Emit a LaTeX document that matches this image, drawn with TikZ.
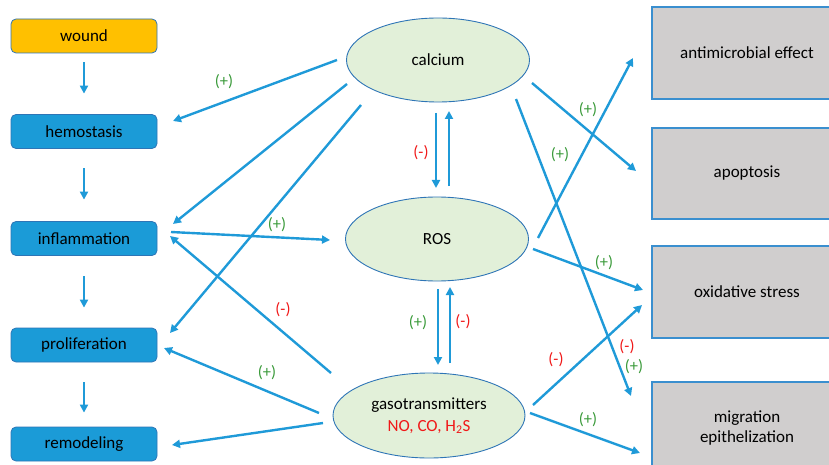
\documentclass[tikz,border=0pt]{standalone}
\usepackage{fontspec}
\setmainfont{Carlito}
\usepackage{xcolor}
\usetikzlibrary{positioning, arrows.meta, calc, shapes.geometric}
\definecolor{stageblue}{HTML}{1B9BD7}
\definecolor{stageedge}{HTML}{2E75B6}
\definecolor{woundorange}{HTML}{FFC000}
\definecolor{agentgreen}{HTML}{E2F0D9}
\definecolor{effectgray}{HTML}{D0CECE}
\definecolor{effectedge}{HTML}{3A8FCF}
\definecolor{flowblue}{HTML}{1F9AD8}
\definecolor{plusgreen}{HTML}{3A9A3A}
\definecolor{minusred}{HTML}{F01818}

\tikzset{
  stage/.style={fill=stageblue, draw=stageedge, line width=0.8pt, rounded corners=5pt,
        minimum width=146pt, minimum height=34pt, inner sep=2pt},
  agent/.style={ellipse, fill=agentgreen, draw=stageedge, line width=0.9pt,
        minimum width=183pt, minimum height=84pt, inner sep=0pt, align=center},
  effect/.style={fill=effectgray, draw=effectedge, line width=1.4pt,
        minimum width=190pt, minimum height=92pt, inner sep=2pt, align=center},
  flow/.style={-{Triangle[length=8pt, width=8pt]}, flowblue, line width=2.4pt},
  plus/.style={text=plusgreen, font=\fontsize{16.5}{18}\selectfont},
  minus/.style={text=minusred, font=\fontsize{16.5}{18}\selectfont}
}

\begin{document}
\begin{tikzpicture}[x=1pt, y=-1pt, font=\fontsize{17}{20}\selectfont]
  \useasboundingbox (0,0) rectangle (829,465);
  \clip (0,0) rectangle (829,465);

  % healing stages
  \node (wound) [stage, fill=woundorange] at (84,36) {wound};
  \node (hemo) [stage] at (84,131.5) {hemostasis};
  \node (infl) [stage] at (84,238.5) {inflammation};
  \node (prolif) [stage] at (84,345) {proliferation};
  \node (remod) [stage] at (84,444) {remodeling};

  % agents
  \node (calcium) [agent] at (438,60) {calcium};
  \node (ros) [agent] at (437,239) {ROS};
  \node (gaso) [agent, minimum width=192pt, minimum height=85pt] at (429,415.5)
        {gasotransmitters\\[2pt]\textcolor{minusred}{NO, CO, H\textsubscript{2}S}};

  % effects
  \node (antimic) [effect] at (747,53) {antimicrobial effect};
  \node (apopt) [effect, minimum height=91pt] at (747,173.5) {apoptosis};
  \node (oxid) [effect] at (747,292) {oxidative stress};
  \node (migr) [effect] at (747,428) {migration\\epithelization};

  % stage sequence
  \foreach \a/\b/\s/\e in {wound/hemo/9/20.5, hemo/infl/19.5/21.5, infl/prolif/20.5/20, prolif/remod/20/14}
    \draw[flow, shorten <=\s pt, shorten >=\e pt] (\a.south) -- (\b.north);

  % calcium
  \draw[flow] ($(calcium)+(-101,0)$) -- ($(hemo)+(89,-10.5)$);
  \draw[flow] ($(calcium)+(-91,24)$) -- ($(infl)+(89,-14.5)$);
  \draw[flow] ($(calcium)+(-77,45)$) -- ($(prolif)+(86,-12)$);
  \draw[flow] ($(calcium)+(-2,53)$) -- ($(ros)+(-1,-51)$);
  \draw[flow] ($(calcium)+(94,23)$) -- ($(apopt)+(-111,-2.5)$);
  \draw[flow] ($(calcium)+(78,39)$) -- ($(migr)+(-116,-32)$);

  % ROS
  \draw[flow] ($(infl)+(87,-6.5)$) -- ($(ros)+(-107,1)$);
  \draw[flow] ($(ros)+(12,-53)$) -- ($(calcium)+(11,51)$);
  \draw[flow] ($(ros)+(1,50)$) -- ($(gaso)+(9,-50.5)$);
  \draw[flow] ($(ros)+(101,-1)$) -- ($(antimic)+(-114,5)$);
  \draw[flow] ($(ros)+(96,10)$) -- ($(oxid)+(-104,-2)$);

  % gasotransmitters
  \draw[flow] ($(gaso)+(-98,-42.5)$) -- ($(infl)+(86,-2.5)$);
  \draw[flow] ($(gaso)+(-110,-2.5)$) -- ($(prolif)+(80,3)$);
  \draw[flow] ($(gaso)+(-106,7.5)$) -- ($(remod)+(88,1)$);
  \draw[flow] ($(gaso)+(21,-52.5)$) -- ($(ros)+(13,48)$);
  \draw[flow] ($(gaso)+(104,-10.5)$) -- ($(oxid)+(-105,13)$);
  \draw[flow] ($(gaso)+(101,-2.5)$) -- ($(migr)+(-107,25)$);

  % effect signs
  \node (s1) [plus] at (224,82) {(+)};
  \node (s2) [plus] at (277,225) {(+)};
  \node (s3) [minus] at (283,310) {(-)};
  \node (s4) [plus] at (267,373) {(+)};
  \node (s5) [minus] at (421,153) {(-)};
  \node (s6) [plus] at (418,323) {(+)};
  \node (s7) [minus] at (463,322) {(-)};
  \node (s8) [plus] at (588,110) {(+)};
  \node (s9) [plus] at (560,155) {(+)};
  \node (s10) [minus] at (627,347) {(-)};
  \node (s11) [plus] at (634,367) {(+)};
  \node (s12) [plus] at (604,263) {(+)};
  \node (s13) [minus] at (556,360) {(-)};
  \node (s14) [plus] at (588,420) {(+)};
\end{tikzpicture}
\end{document}
